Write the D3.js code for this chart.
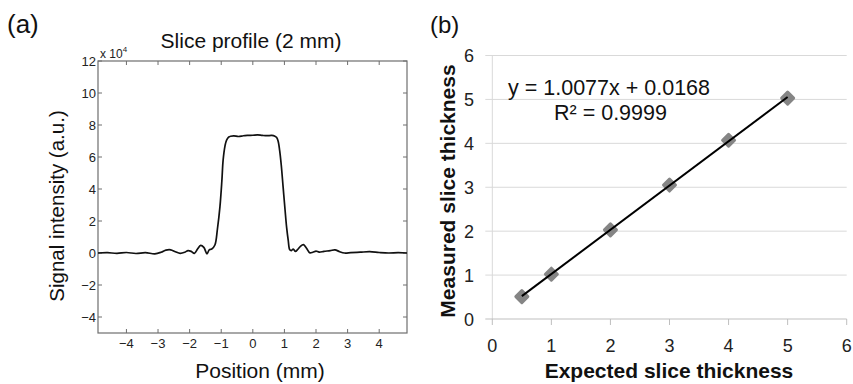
<!DOCTYPE html>
<html>
<head>
<meta charset="utf-8">
<script src="https://cdn.jsdelivr.net/npm/d3@7"></script>
<style>
  body { margin: 0; background: #fff; }
  svg { display: block; font-family: "Liberation Sans", Arial, sans-serif; }
</style>
</head>
<body>
<div id="chart"></div>
<script>
// (a) slice profile, signal in units of 10^4
const profilePos = [-4.9, -4.6, -4.3, -4.0, -3.7, -3.4, -3.1, -2.9, -2.75, -2.6, -2.45, -2.3, -2.15, -2.05,
  -1.95, -1.85, -1.75, -1.65, -1.55, -1.45, -1.38, -1.3, -1.2, -1.12, -1.04, -0.98, -0.94, -0.88, -0.83,
  -0.76, -0.7, -0.6, -0.45, -0.3, -0.15, 0, 0.15, 0.3, 0.45, 0.6, 0.7, 0.75, 0.8, 0.85, 0.9, 0.96, 1.02,
  1.07, 1.12, 1.17, 1.22, 1.28, 1.35, 1.42, 1.5, 1.6, 1.7, 1.8, 1.9, 2.0, 2.1, 2.25, 2.45, 2.6, 2.75,
  2.9, 3.1, 3.4, 3.7, 4.0, 4.3, 4.6, 4.88];
const profileSignal = [0.0, 0.02, -0.02, 0.03, -0.03, 0.02, -0.05, 0.05, 0.18, 0.2, 0.08, -0.02, 0.05, 0.15,
  0.1, -0.02, 0.25, 0.48, 0.35, -0.05, 0.2, 0.25, 0.5, 1.5, 2.9, 4.5, 5.8, 6.7, 7.06,
  7.25, 7.3, 7.32, 7.28, 7.33, 7.35, 7.36, 7.38, 7.35, 7.33, 7.35, 7.3, 7.23, 7.0, 6.4, 5.5, 4.1, 2.7,
  1.6, 0.8, 0.2, 0.15, 0.25, 0.1, 0.22, 0.4, 0.52, 0.3, 0.02, 0.05, 0.12, 0.05, 0.1, 0.15, 0.2, 0.08,
  0.0, 0.02, 0.05, 0.08, 0.03, 0.0, 0.02, 0.0];
const profileXTicks = [-4, -3, -2, -1, 0, 1, 2, 3, 4];
const profileYTicks = [-4, -2, 0, 2, 4, 6, 8, 10, 12];

// (b) measured vs expected thickness
const expectedThickness = [0.5, 1, 2, 3, 4, 5];
const measuredThickness = [0.51, 1.02, 2.03, 3.05, 4.07, 5.03];
const fitSlope = 1.0077;
const fitIntercept = 0.0168;
const thicknessTicks = [0, 1, 2, 3, 4, 5, 6];

const width = 853, height = 384;
const svg = d3.select("#chart").append("svg")
  .attr("width", width).attr("height", height);
svg.append("rect").attr("width", width).attr("height", height).attr("fill", "#fff");

// ---------- panel (a) ----------
const ax = d3.scaleLinear().domain([-4.9, 4.88]).range([98, 407]);
const ay = d3.scaleLinear().domain([-5, 12]).range([333, 61]);
const boxColor = "#6e6e6e";

const pa = svg.append("g");
pa.append("rect")
  .attr("x", ax.range()[0]).attr("y", ay.range()[1])
  .attr("width", ax.range()[1] - ax.range()[0])
  .attr("height", ay.range()[0] - ay.range()[1])
  .attr("fill", "none").attr("stroke", boxColor).attr("stroke-width", 1.2);

// inward ticks on all four sides (matlab style)
profileXTicks.forEach(t => {
  pa.append("line").attr("x1", ax(t)).attr("x2", ax(t))
    .attr("y1", ay(-5)).attr("y2", ay(-5) - 4).attr("stroke", boxColor);
  pa.append("line").attr("x1", ax(t)).attr("x2", ax(t))
    .attr("y1", ay(12)).attr("y2", ay(12) + 4).attr("stroke", boxColor);
});
profileYTicks.forEach(t => {
  pa.append("line").attr("x1", ax.range()[0]).attr("x2", ax.range()[0] + 4)
    .attr("y1", ay(t)).attr("y2", ay(t)).attr("stroke", boxColor);
  pa.append("line").attr("x1", ax.range()[1]).attr("x2", ax.range()[1] - 4)
    .attr("y1", ay(t)).attr("y2", ay(t)).attr("stroke", boxColor);
});

const fmtMinus = d => d < 0 ? "\u2212" + Math.abs(d) : String(d);
pa.append("g").selectAll("text").data(profileXTicks).join("text")
  .attr("x", d => ax(d)).attr("y", 348)
  .attr("text-anchor", "middle").attr("font-size", 13).attr("fill", "#222")
  .text(fmtMinus);
pa.append("g").selectAll("text").data(profileYTicks).join("text")
  .attr("x", 96).attr("y", d => ay(d) + 5)
  .attr("text-anchor", "end").attr("font-size", 13).attr("fill", "#222")
  .text(fmtMinus);

const mult = pa.append("text").attr("x", 100).attr("y", 58).attr("font-size", 12).attr("fill", "#222");
mult.append("tspan").text("x 10");
mult.append("tspan").attr("font-size", 8).attr("dy", -6).text("4");

const profileLine = d3.line()
  .x(d => ax(d[0])).y(d => ay(d[1]))
  .curve(d3.curveCatmullRom.alpha(0.5));
pa.append("path")
  .datum(d3.zip(profilePos, profileSignal))
  .attr("fill", "none").attr("stroke", "#111").attr("stroke-width", 1.7)
  .attr("d", profileLine);

pa.append("text").attr("x", 251).attr("y", 48).attr("text-anchor", "middle")
  .attr("font-size", 21).attr("fill", "#111").text("Slice profile (2 mm)");
pa.append("text").attr("x", 260).attr("y", 378).attr("text-anchor", "middle")
  .attr("font-size", 21).attr("fill", "#111").text("Position  (mm)");
pa.append("text").attr("transform", "translate(64,206) rotate(-90)")
  .attr("text-anchor", "middle").attr("font-size", 20.5).attr("fill", "#111")
  .text("Signal intensity (a.u.)");
pa.append("text").attr("x", 7).attr("y", 33).attr("font-size", 26).attr("fill", "#111").text("(a)");

// ---------- panel (b) ----------
const bx = d3.scaleLinear().domain([0, 6]).range([492.3, 846.7]);
const by = d3.scaleLinear().domain([0, 6]).range([319, 55.5]);
const gridColor = "#d9d9d9";

const pb = svg.append("g");
pb.append("g").selectAll("line").data(thicknessTicks.filter(d => d > 0)).join("line")
  .attr("x1", bx(0) - 7).attr("x2", bx(6))
  .attr("y1", d => by(d)).attr("y2", d => by(d))
  .attr("stroke", gridColor).attr("stroke-width", 1);
pb.append("line").attr("x1", bx(0)).attr("x2", bx(0))
  .attr("y1", by(0)).attr("y2", by(6)).attr("stroke", gridColor);
pb.append("line").attr("x1", bx(0) - 7).attr("x2", bx(6))
  .attr("y1", by(0)).attr("y2", by(0)).attr("stroke", "#bfbfbf");
pb.append("g").selectAll("line").data(thicknessTicks).join("line")
  .attr("x1", d => bx(d)).attr("x2", d => bx(d))
  .attr("y1", by(0)).attr("y2", by(0) + 6).attr("stroke", "#bfbfbf");

pb.append("g").selectAll("text").data(thicknessTicks).join("text")
  .attr("x", d => bx(d)).attr("y", 352)
  .attr("text-anchor", "middle").attr("font-size", 18).attr("fill", "#222")
  .text(d => d);
pb.append("g").selectAll("text").data(thicknessTicks).join("text")
  .attr("x", 474).attr("y", d => by(d) + 6.5)
  .attr("text-anchor", "end").attr("font-size", 18).attr("fill", "#222")
  .text(d => d);

// markers
const pts = d3.zip(expectedThickness, measuredThickness);
pb.append("g").selectAll("path").data(pts).join("path")
  .attr("transform", d => `translate(${bx(d[0])},${by(d[1])})`)
  .attr("d", "M0,-6L6,0L0,6L-6,0Z")
  .attr("fill", "#858585").attr("stroke", "#858585")
  .attr("stroke-width", 3).attr("stroke-linejoin", "round");

// linear trendline
const fitX = d3.extent(expectedThickness);
pb.append("line")
  .attr("x1", bx(fitX[0])).attr("y1", by(fitSlope * fitX[0] + fitIntercept))
  .attr("x2", bx(fitX[1])).attr("y2", by(fitSlope * fitX[1] + fitIntercept))
  .attr("stroke", "#000").attr("stroke-width", 2);

pb.append("text").attr("x", 508).attr("y", 95).attr("font-size", 21.5).attr("fill", "#111")
  .text(`y = ${fitSlope}x + ${fitIntercept}`);
pb.append("text").attr("x", 554).attr("y", 120).attr("font-size", 21.5).attr("fill", "#111")
  .text("R\u00B2 = 0.9999");

pb.append("text").attr("x", 669).attr("y", 378).attr("text-anchor", "middle")
  .attr("font-size", 21).attr("font-weight", "bold").attr("fill", "#111")
  .text("Expected slice thickness");
pb.append("text").attr("transform", "translate(455,191) rotate(-90)")
  .attr("text-anchor", "middle").attr("font-size", 21).attr("font-weight", "bold").attr("fill", "#111")
  .text("Measured slice thickness");
pb.append("text").attr("x", 430).attr("y", 33).attr("font-size", 24).attr("fill", "#111").text("(b)");
</script>
</body>
</html>
